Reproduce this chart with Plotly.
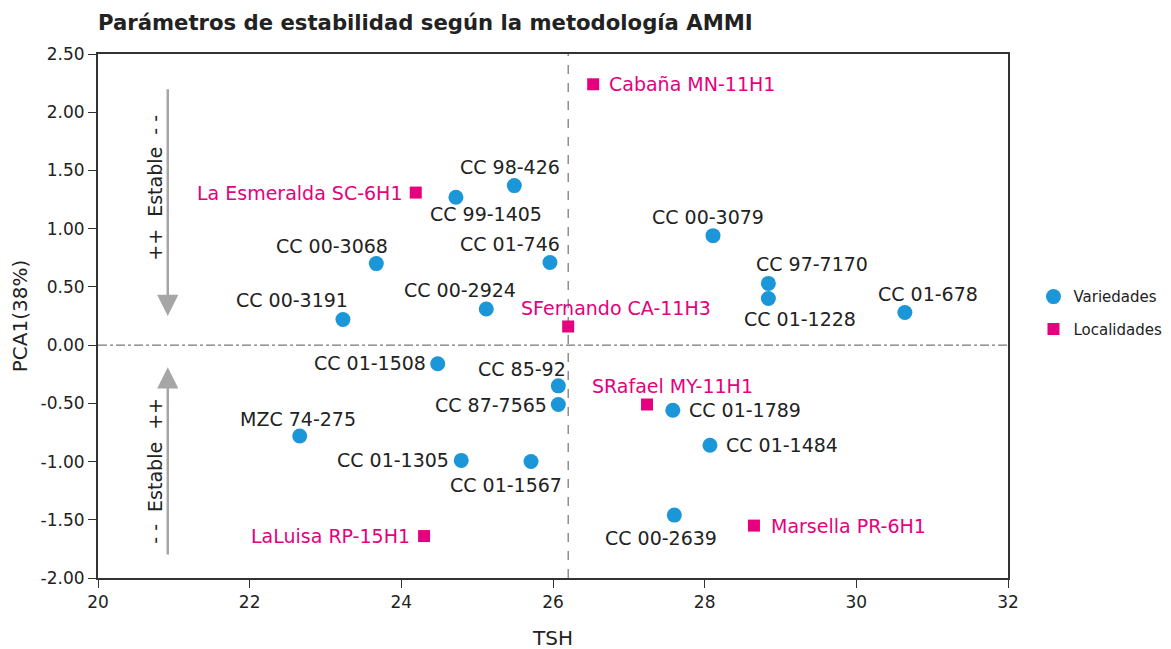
import plotly.graph_objects as go

# Variedades
var_names = ["CC 98-426", "CC 99-1405", "CC 00-3068", "CC 01-746", "CC 00-3079",
             "CC 97-7170", "CC 01-1228", "CC 01-678", "CC 00-3191", "CC 00-2924",
             "CC 01-1508", "CC 85-92", "CC 87-7565", "CC 01-1789", "CC 01-1484",
             "MZC 74-275", "CC 01-1305", "CC 01-1567", "CC 00-2639"]
var_tsh = [25.49, 24.72, 23.67, 25.96, 28.11, 28.84, 28.84, 30.64, 23.23, 25.12,
           24.48, 26.07, 26.07, 27.58, 28.07, 22.66, 24.79, 25.71, 27.60]
var_pca = [1.37, 1.27, 0.70, 0.71, 0.94, 0.53, 0.40, 0.28, 0.22, 0.31,
           -0.16, -0.35, -0.51, -0.56, -0.86, -0.78, -0.99, -1.00, -1.46]

# Localidades
loc_names = ["Cabaña MN-11H1", "La Esmeralda SC-6H1", "SFernando CA-11H3",
             "SRafael MY-11H1", "Marsella PR-6H1", "LaLuisa RP-15H1"]
loc_tsh = [26.53, 24.19, 26.20, 27.24, 28.65, 24.30]
loc_pca = [2.24, 1.31, 0.16, -0.51, -1.55, -1.64]

x_ref = 26.2
y_ref = 0.0

y_tickvals = [-2.0, -1.5, -1.0, -0.5, 0.0, 0.5, 1.0, 1.5, 2.0, 2.5]
y_ticktext = ["-2.00", "-1.50", "-1.00", "-0.50", "0.00", "0.50", "1.00", "1.50", "2.00", "2.50"]

# label placement (anchor, xshift, yshift in px)
var_lab = [("center", -4, 19), ("center", 30, -17), ("center", -44, 18), ("center", -40, 18),
           ("center", -5, 19), ("center", 44, 19), ("center", 32, -20), ("center", 23, 19),
           ("center", -51, 19), ("center", -26, 19), ("right", -10, 1), ("center", -36, 17),
           ("right", -9, 0), ("left", 14, 0), ("left", 14, 0), ("center", -2, 17),
           ("right", -10, 0), ("center", -25, -23), ("center", -13, -23)]
loc_lab = [("left", 14, 0), ("right", -11, 0), ("center", 48, 18),
           ("center", 25, 19), ("left", 15, 0), ("right", -12, 0)]

FONT = "DejaVu Sans"
BLUE = "#1b96d8"
MAG = "#e6007e"
LBL = 19

fig = go.Figure()
fig.add_trace(go.Scatter(x=var_tsh, y=var_pca, mode="markers", name="Variedades",
                         legendgroup="v",
                         marker=dict(symbol="circle", size=15, color=BLUE),
                         hovertext=var_names))
fig.add_trace(go.Scatter(x=loc_tsh, y=loc_pca, mode="markers", name="Localidades",
                         legendgroup="l",
                         marker=dict(symbol="square", size=12, color=MAG),
                         hovertext=loc_names))

ann = []
for n, x, y, (a, dx, dy) in zip(var_names, var_tsh, var_pca, var_lab):
    ann.append(dict(x=x, y=y, text=n, showarrow=False, xanchor=a, yanchor="middle",
                    xshift=dx, yshift=dy, font=dict(family=FONT, size=LBL, color="#222222")))
for n, x, y, (a, dx, dy) in zip(loc_names, loc_tsh, loc_pca, loc_lab):
    ann.append(dict(x=x, y=y, text=n, showarrow=False, xanchor=a, yanchor="middle",
                    xshift=dx, yshift=dy, font=dict(family=FONT, size=LBL, color=MAG)))

# stability arrows
ann.append(dict(x=20.92, y=0.25, ax=20.92, ay=2.21, xref="x", yref="y", axref="x", ayref="y",
                showarrow=True, arrowhead=2, arrowsize=1.7, arrowwidth=2.5, arrowcolor="#a6a6a6", text=""))
ann.append(dict(x=20.92, y=-0.19, ax=20.92, ay=-1.81, xref="x", yref="y", axref="x", ayref="y",
                showarrow=True, arrowhead=2, arrowsize=1.7, arrowwidth=2.5, arrowcolor="#a6a6a6", text=""))
ann.append(dict(x=20.75, y=1.35, text="++  Estable  - -", textangle=-90, showarrow=False,
                font=dict(family=FONT, size=LBL, color="#222222")))
ann.append(dict(x=20.75, y=-1.08, text="- -  Estable  ++", textangle=-90, showarrow=False,
                font=dict(family=FONT, size=LBL, color="#222222")))

fig.add_shape(type="line", x0=x_ref, x1=x_ref, y0=-2.0, y1=2.5, xref="x", yref="y",
              line=dict(color="#555555", width=1, dash="dash"), layer="below")
fig.add_shape(type="line", x0=20, x1=32, y0=y_ref, y1=y_ref, xref="x", yref="y",
              line=dict(color="#555555", width=1, dash="dashdot"), layer="below")

W, H = 1185, 649
fig.update_layout(
    width=W, height=H,
    margin=dict(l=90, r=W - 1000, t=46, b=H - 570),
    paper_bgcolor="white", plot_bgcolor="white",
    font=dict(family=FONT, size=17, color="#222222"),
    title=dict(text="<b>Parámetros de estabilidad según la metodología AMMI</b>",
               x=90 / W, xanchor="left", y=1 - 15 / H, yanchor="middle",
               font=dict(family=FONT, size=21.2, color="#222222")),
    annotations=ann,
    showlegend=True,
    legend=dict(x=1.028, y=0.506, xanchor="left", yanchor="middle",
                font=dict(family=FONT, size=15, color="#222222"),
                tracegroupgap=10, bgcolor="rgba(0,0,0,0)"),
    xaxis=dict(range=[20, 32], dtick=2, tick0=20, showgrid=False, zeroline=False,
               showline=True, linecolor="#333333", linewidth=2, mirror=True,
               ticks="outside", ticklen=8, tickcolor="#333333", automargin=False,
               title=dict(text="TSH", font=dict(family=FONT, size=20), standoff=20),
               tickfont=dict(family=FONT, size=17)),
    yaxis=dict(range=[-2.0, 2.5], tickmode="array", tickvals=y_tickvals, ticktext=y_ticktext,
               showgrid=False, zeroline=False, automargin=False,
               showline=True, linecolor="#333333", linewidth=2, mirror=True,
               ticks="outside", ticklen=8, tickcolor="#333333",
               title=dict(text="PCA1(38%)", font=dict(family=FONT, size=20), standoff=10),
               tickfont=dict(family=FONT, size=17)),
)

fig.write_html("out.html")
